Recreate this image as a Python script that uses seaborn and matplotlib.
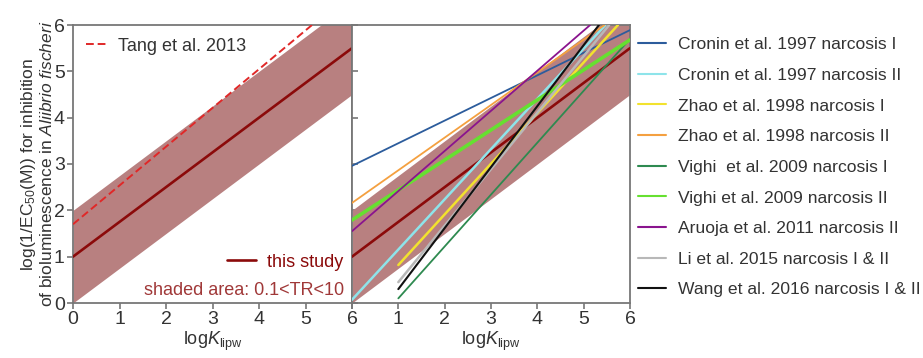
import matplotlib
matplotlib.use("Agg")
import matplotlib.pyplot as plt
from matplotlib.lines import Line2D
import seaborn as sns
import pandas as pd

# Literature narcosis QSARs: end points of each straight line (logKlipw, log(1/EC50))
names = ["Cronin et al. 1997 narcosis I", "Cronin et al. 1997 narcosis II",
         "Zhao et al. 1998 narcosis I", "Zhao et al. 1998 narcosis II",
         "Vighi  et al. 2009 narcosis I", "Vighi et al. 2009 narcosis II",
         "Aruoja et al. 2011 narcosis II", "Li et al. 2015 narcosis I & II",
         "Wang et al. 2016 narcosis I & II"]
colors = ["#2c5c9c", "#8ee4ea", "#f2e22e", "#f4a040", "#2e8a50", "#66e030",
          "#8a148e", "#b8b8b8", "#111111"]
widths = [1.3, 1.8, 1.8, 1.3, 1.3, 2.6, 1.3, 1.8, 1.5]
x_start = [0, 0, 1, 0, 1, 0, 0, 1, 1]
y_start = [2.96, 0.07, 0.82, 2.16, 0.10, 1.79, 1.55, 0.45, 0.30]
x_end = [6, 5.47, 5.74, 5.45, 6, 6, 5.14, 5.55, 5.33]
y_end = [5.89, 6, 6, 6, 5.70, 5.68, 6, 6, 6]

# This study: regression line and the 0.1 < TR < 10 band (+/- 1 log unit)
study_x = [0, 6]
study_y = [1.0, 5.5]
band_lo = [0.0, 4.5]
band_hi = [2.0, 6.5]

# Tang et al. 2013
tang_x = [0, 5.14]
tang_y = [1.7, 6.0]

xticks = [0, 1, 2, 3, 4, 5, 6]
yticks = [0, 1, 2, 3, 4, 5, 6]

sns.set_theme(style="ticks")
plt.rcParams["font.family"] = ["Liberation Sans", "DejaVu Sans"]
plt.rcParams["mathtext.fontset"] = "custom"
plt.rcParams["mathtext.rm"] = "Liberation Sans"
plt.rcParams["mathtext.it"] = "Liberation Sans:italic"
plt.rcParams["mathtext.bf"] = "Liberation Sans:bold"

text_col = "#333333"
spine_col = "#777777"
band_col = "#b88080"
study_col = "#8b0a0a"

fig = plt.figure(figsize=(9.23, 3.58), dpi=100)
ax1 = fig.add_axes([73 / 923, 55 / 358, 279 / 923, 278 / 358])
ax2 = fig.add_axes([352 / 923, 55 / 358, 278 / 923, 278 / 358])

study = pd.DataFrame({"x": study_x, "y": study_y, "lo": band_lo, "hi": band_hi})
tang = pd.DataFrame({"x": tang_x, "y": tang_y})

for ax in (ax1, ax2):
    ax.fill_between(study["x"], study["lo"], study["hi"], color=band_col,
                    linewidth=0, zorder=1)
    sns.lineplot(data=study, x="x", y="y", ax=ax, color=study_col,
                 linewidth=1.9, zorder=3, legend=False)

sns.lineplot(data=tang, x="x", y="y", ax=ax1, color="#e02828",
             linewidth=1.4, dashes=False, zorder=4, legend=False)
ax1.lines[-1].set_dashes([4, 2])

for i, name in enumerate(names):
    d = pd.DataFrame({"x": [x_start[i], x_end[i]], "y": [y_start[i], y_end[i]]})
    sns.lineplot(data=d, x="x", y="y", ax=ax2, color=colors[i],
                 linewidth=widths[i], zorder=4 + i, legend=False)

for ax in (ax1, ax2):
    ax.set_xlim(0, 6)
    ax.set_ylim(0, 6)
    ax.set_xticks(xticks)
    ax.set_yticks(yticks)
    ax.set_xlabel(r"log$\it{K}_{\rm lipw}$", fontsize=13, color=text_col, labelpad=1)
    for s in ax.spines.values():
        s.set_visible(True)
        s.set_color(spine_col)
        s.set_linewidth(1.3)
    ax.tick_params(axis="both", colors=spine_col, labelcolor=text_col,
                   labelsize=14, length=4, width=1.2, pad=2)

ax1.set_ylabel("log(1/EC$_{50}$(M)) for inhibition\n"
               r"of bioluminescence in $\it{Aliibrio\ fischeri}$",
               fontsize=12.5, color=text_col, labelpad=-1, linespacing=1.05)
ax2.set_ylabel("")
ax2.tick_params(axis="y", direction="in", labelleft=False)
ax2.set_xticks(xticks)
ax2.set_xticklabels([""] + [str(t) for t in xticks[1:]])

# Left panel legends
leg_tang = ax1.legend(handles=[Line2D([], [], color="#e02828", lw=1.4, ls=(0, (4, 2)))],
                      labels=["Tang et al. 2013"], loc="upper left", frameon=False,
                      fontsize=13, handlelength=1.3, handletextpad=0.5,
                      borderaxespad=0.3, bbox_to_anchor=(0.0, 1.0))
for t in leg_tang.get_texts():
    t.set_color(text_col)
ax1.add_artist(leg_tang)
leg_study = ax1.legend(handles=[Line2D([], [], color=study_col, lw=1.9)],
                       labels=["this study"], loc="lower right", frameon=False,
                       fontsize=13, handlelength=1.6, handletextpad=0.6,
                       bbox_to_anchor=(0.995, 0.09), borderaxespad=0)
for t in leg_study.get_texts():
    t.set_color(study_col)
ax1.text(0.97, 0.045, "shaded area: 0.1<TR<10", transform=ax1.transAxes,
         ha="right", va="center", fontsize=13, color="#a03838")

# Right panel legend (outside)
handles = [Line2D([], [], color=c, lw=1.5) for c in colors]
leg = fig.legend(handles=handles, labels=names, loc="upper left",
                 bbox_to_anchor=(638 / 923, 1 - 37 / 358), frameon=False,
                 fontsize=12.6, handlelength=1.6, handletextpad=0.7,
                 labelspacing=0.88, borderaxespad=0, borderpad=0)
for t in leg.get_texts():
    t.set_color(text_col)

fig.savefig("out.png", dpi=100)
